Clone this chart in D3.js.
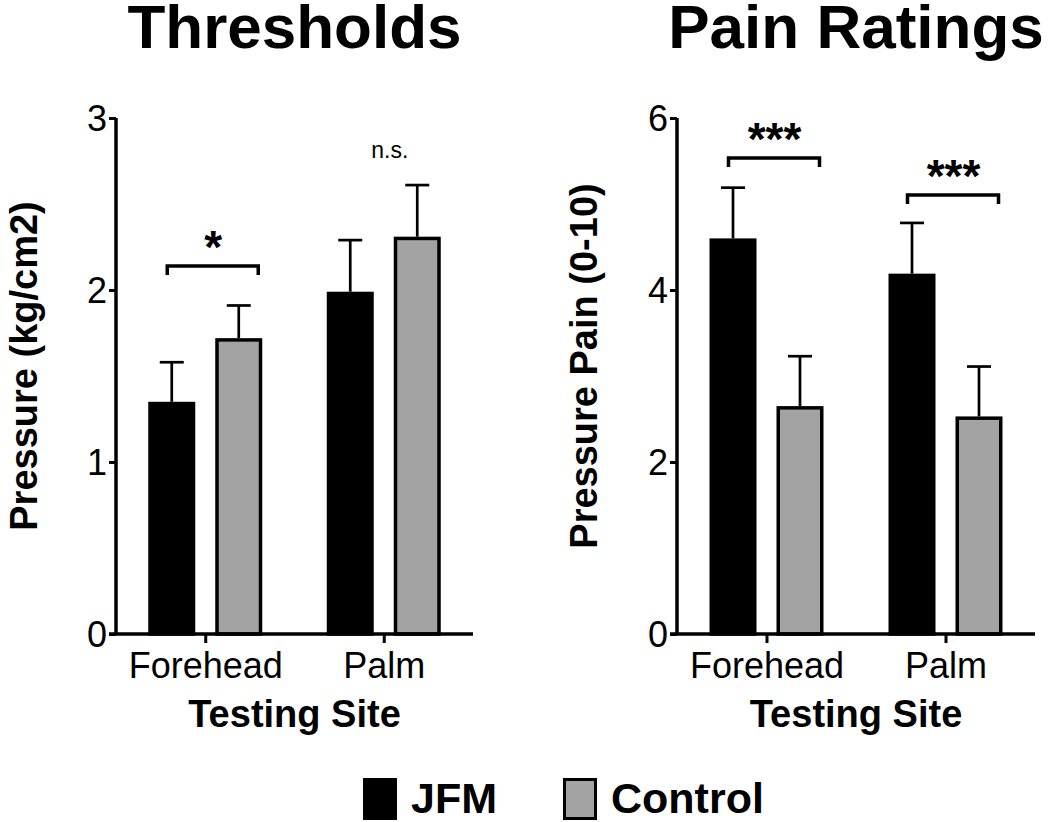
<!DOCTYPE html>
<html>
<head>
<meta charset="utf-8">
<script src="https://cdn.jsdelivr.net/npm/d3@7"></script>
<style>
  html, body { margin: 0; padding: 0; background: #fff; }
  svg text { font-family: "Liberation Sans", Arial, Helvetica, sans-serif; fill: #000; }
</style>
</head>
<body>
<svg id="chart" width="1050" height="822"></svg>
<script>
// ---- data ----
const sites = ["Forehead", "Palm"];
const groups = ["JFM", "Control"];
const groupColors = ["#000000", "#a3a3a3"];

const thresholdJFM = [1.35, 1.99];
const thresholdJFMErr = [0.23, 0.30];
const thresholdControl = [1.72, 2.31];
const thresholdControlErr = [0.19, 0.30];
const thresholdTicks = [0, 1, 2, 3];
const thresholdSig = [{ site: "Forehead", label: "*", y: 2.14, bracket: true },
                      { site: "Palm", label: "n.s.", y: 2.77, bracket: false }];

const painJFM = [4.60, 4.19];
const painJFMErr = [0.59, 0.59];
const painControl = [2.65, 2.53];
const painControlErr = [0.58, 0.58];
const painTicks = [0, 2, 4, 6];
const painSig = [{ site: "Forehead", label: "***", y: 5.535, bracket: true },
                 { site: "Palm", label: "***", y: 5.105, bracket: true }];

const svg = d3.select("#chart");

function panel(opts) {
  const g = svg.append("g");
  const x = d3.scalePoint().domain(sites).range([opts.x0, opts.x1]).padding(0.5);
  const inner = d3.scaleBand().domain(groups).range([-57, 57]).paddingInner(0.2985);
  const y = d3.scaleLinear().domain([0, opts.max]).range([634, 118]);

  // title
  g.append("text").attr("x", (opts.x0 + opts.x1) / 2).attr("y", 48)
    .attr("text-anchor", "middle").style("font-size", "62px").style("font-weight", "bold")
    .text(opts.title);

  const rows = [];
  sites.forEach((s, i) => {
    rows.push({ site: s, group: "JFM", v: opts.jfm[i], e: opts.jfmErr[i] });
    rows.push({ site: s, group: "Control", v: opts.ctrl[i], e: opts.ctrlErr[i] });
  });

  // error bars
  rows.forEach(d => {
    const cx = x(d.site) + inner(d.group) + inner.bandwidth() / 2;
    g.append("line").attr("x1", cx).attr("x2", cx)
      .attr("y1", y(d.v)).attr("y2", y(d.v + d.e))
      .attr("stroke", "#000").attr("stroke-width", 2.7);
    g.append("line").attr("x1", cx - 12).attr("x2", cx + 12)
      .attr("y1", y(d.v + d.e)).attr("y2", y(d.v + d.e))
      .attr("stroke", "#000").attr("stroke-width", 2.7);
  });

  // bars
  rows.forEach(d => {
    const gi = groups.indexOf(d.group);
    const bx = x(d.site) + inner(d.group);
    const bw = inner.bandwidth();
    g.append("rect")
      .attr("x", bx + 1.75).attr("y", y(d.v) + 1.75)
      .attr("width", bw - 3.5).attr("height", y(0) - y(d.v) - 1.75)
      .attr("fill", groupColors[gi]).attr("stroke", "#000").attr("stroke-width", 3.5);
  });

  // significance
  opts.sig.forEach(s => {
    const xc = x(s.site);
    if (s.bracket) {
      const yy = y(s.y);
      g.append("path")
        .attr("d", `M${xc - 38},${yy + 9}V${yy}H${xc + 53}V${yy + 9}`)
        .attr("fill", "none").attr("stroke", "#000").attr("stroke-width", 3.5);
      g.append("text").attr("x", xc + 8).attr("y", yy - 3)
        .attr("text-anchor", "middle").style("font-size", "46px").style("font-weight", "bold")
        .text(s.label);
    } else {
      g.append("text").attr("x", xc + 6).attr("y", y(s.y))
        .attr("text-anchor", "middle").style("font-size", "23px")
        .text(s.label);
    }
  });

  // y axis
  const ya = g.append("g").attr("transform", `translate(${opts.x0},0)`)
    .call(d3.axisLeft(y).tickValues(opts.ticks).tickSize(7).tickPadding(2).tickFormat(d3.format("d")));
  ya.select(".domain").attr("stroke-width", 3.5).attr("d", `M0,${y(opts.max)}V${y(0)}`);
  ya.selectAll(".tick line").attr("stroke-width", 3);
  ya.selectAll(".tick text").style("font-size", "36px").attr("dy", "0.36em")
    .style("font-family", '"Liberation Sans", Arial, sans-serif');

  // x axis
  const xa = g.append("g").attr("transform", `translate(0,${y(0)})`)
    .call(d3.axisBottom(x).tickSize(9).tickPadding(9));
  xa.select(".domain").attr("stroke-width", 3.5).attr("d", `M${opts.x0 - 7},0H${opts.x1}`);
  xa.selectAll(".tick line").attr("stroke-width", 3);
  xa.selectAll(".tick text").style("font-size", "36px")
    .style("font-family", '"Liberation Sans", Arial, sans-serif');

  // axis titles
  g.append("text").attr("x", (opts.x0 + opts.x1) / 2).attr("y", 727)
    .attr("text-anchor", "middle").style("font-size", "38px").style("font-weight", "bold")
    .text("Testing Site");
  g.append("text")
    .attr("transform", `translate(${opts.yLabelX},366) rotate(-90)`)
    .attr("text-anchor", "middle").style("font-size", "38px").style("font-weight", "bold")
    .text(opts.yLabel);
}

panel({ x0: 116, x1: 473, max: 3, ticks: thresholdTicks, title: "Thresholds",
        jfm: thresholdJFM, jfmErr: thresholdJFMErr, ctrl: thresholdControl, ctrlErr: thresholdControlErr,
        sig: thresholdSig, yLabel: "Pressure (kg/cm2)", yLabelX: 37 });
panel({ x0: 677, x1: 1035, max: 6, ticks: painTicks, title: "Pain Ratings",
        jfm: painJFM, jfmErr: painJFMErr, ctrl: painControl, ctrlErr: painControlErr,
        sig: painSig, yLabel: "Pressure Pain (0-10)", yLabelX: 597 });

// legend
const legendX = [363, 563];
const lg = svg.append("g");
groups.forEach((gname, i) => {
  lg.append("rect").attr("x", legendX[i] + 1.5).attr("y", 778 + 1.5)
    .attr("width", 31).attr("height", 39)
    .attr("fill", groupColors[i]).attr("stroke", "#000").attr("stroke-width", 3);
  lg.append("text").attr("x", legendX[i] + 48).attr("y", 813)
    .style("font-size", "43px").style("font-weight", "bold").text(gname);
});
</script>
</body>
</html>
